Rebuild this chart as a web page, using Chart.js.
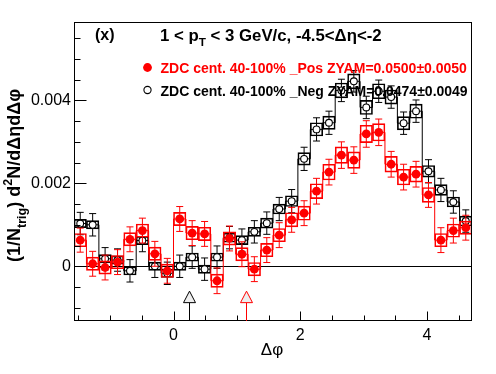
<!DOCTYPE html>
<html><head><meta charset="utf-8">
<script src="https://cdn.jsdelivr.net/npm/chart.js@4"></script>
<style>html,body{margin:0;padding:0;background:#fff;}canvas{display:block;}</style>
</head><body>
<canvas id="c" width="496" height="374"></canvas>
<script>
// ---- data ----
const nBins = 32;
const xMin = -Math.PI / 2, xMax = 3 * Math.PI / 2;
const yMin = -0.00132, yMax = 0.00589;

const posValues = [0.00063, 0.00006, -0.00003, 0.00010, 0.00065, 0.00086, 0.00030, -0.00011,
                   0.00114, 0.00080, 0.00078, -0.00035, 0.00067, 0.00029, -0.00007, 0.00039,
                   0.00075, 0.00112, 0.00128, 0.00181, 0.00227, 0.00268, 0.00256, 0.00319,
                   0.00323, 0.00246, 0.00215, 0.00222, 0.00172, 0.00063, 0.00086, 0.00093];
const posStat   = [0.00029, 0.00030, 0.00030, 0.00030, 0.00030, 0.00030, 0.00030, 0.00030,
                   0.00030, 0.00030, 0.00030, 0.00031, 0.00030, 0.00030, 0.00030, 0.00030,
                   0.00030, 0.00030, 0.00030, 0.00031, 0.00031, 0.00032, 0.00032, 0.00032,
                   0.00032, 0.00031, 0.00031, 0.00031, 0.00030, 0.00030, 0.00030, 0.00030];
const posSys    = [0.00016, 0.00016, 0.00016, 0.00016, 0.00016, 0.00016, 0.00016, 0.00016,
                   0.00016, 0.00016, 0.00016, 0.00016, 0.00016, 0.00016, 0.00016, 0.00016,
                   0.00016, 0.00017, 0.00017, 0.00018, 0.00019, 0.00020, 0.00020, 0.00021,
                   0.00021, 0.00019, 0.00019, 0.00019, 0.00018, 0.00016, 0.00016, 0.00016];

const negValues = [0.00103, 0.00100, 0.00018, 0.00015, -0.00011, 0.00062, 0.00000, -0.00017,
                   0.00000, 0.00022, -0.00007, 0.00022, 0.00069, 0.00063, 0.00083, 0.00104,
                   0.00138, 0.00157, 0.00259, 0.00330, 0.00346, 0.00424, 0.00446, 0.00383,
                   0.00422, 0.00408, 0.00345, 0.00374, 0.00229, 0.00184, 0.00155, 0.00109];
const negStat   = [0.00027, 0.00027, 0.00027, 0.00027, 0.00027, 0.00027, 0.00027, 0.00027,
                   0.00027, 0.00027, 0.00027, 0.00027, 0.00027, 0.00027, 0.00027, 0.00027,
                   0.00028, 0.00028, 0.00028, 0.00028, 0.00028, 0.00027, 0.00026, 0.00027,
                   0.00027, 0.00027, 0.00027, 0.00027, 0.00028, 0.00028, 0.00027, 0.00027];
const negSys    = [0.00010, 0.00010, 0.00010, 0.00010, 0.00010, 0.00010, 0.00010, 0.00010,
                   0.00010, 0.00010, 0.00010, 0.00010, 0.00011, 0.00011, 0.00011, 0.00012,
                   0.00012, 0.00013, 0.00015, 0.00016, 0.00016, 0.00018, 0.00018, 0.00017,
                   0.00018, 0.00017, 0.00016, 0.00017, 0.00014, 0.00013, 0.00012, 0.00012];

const xMajorTicks = [0, 2, 4];
const xMinorTicks = [-1.5, -1, -0.5, 0.5, 1, 1.5, 2.5, 3, 3.5, 4.5];
const yMajorTicks = [0, 0.002, 0.004];
const yMinorTicks = [-0.001, -0.0005, 0.0005, 0.001, 0.0015, 0.0025, 0.003, 0.0035, 0.0045, 0.005, 0.0055];

const zyamPositions = [0.24, 1.14];   // black (Neg), red (Pos)
const zyamArrowTip = -0.0006;

const titleText = ['1 < p', 'T', ' < 3 GeV/c, -4.5<\u0394\u03b7<-2'];
const panelLabel = '(x)';
const legendPos = 'ZDC cent. 40-100% _Pos ZYAM=0.0500\u00b10.0050';
const legendNeg = 'ZDC cent. 40-100% _Neg ZYAM=0.0474\u00b10.0049';
const xTitle = '\u0394\u03c6';
const yTitle = ['(1/N', 'trig', ') d', '2', 'N/d\u0394\u03b7d\u0394\u03c6'];

// ---- build ----
const binW = (xMax - xMin) / nBins;
const centers = Array.from({length: nBins}, (_, i) => xMin + (i + 0.5) * binW);

const RED = '#ff0000', BLACK = '#000000';

function seriesDatasets(vals, stat, sys, color, filled, order) {
  return [
    { type: 'scatter', data: centers.map((x, i) => ({x, y: vals[i]})),
      pointStyle: 'circle', pointRadius: filled ? 4.4 : 3.4,
      backgroundColor: filled ? color : '#ffffff', borderColor: color,
      borderWidth: filled ? 0 : 1.1, order: order },
    { type: 'scatter', data: centers.flatMap((x, i) => [{x, y: vals[i] + stat[i]}, {x, y: vals[i] - stat[i]}]),
      pointStyle: 'line', pointRadius: 3.5, borderColor: color, backgroundColor: color,
      borderWidth: 1, order: order + 1 },
    { type: 'line', data: centers.flatMap((x, i) => [{x, y: vals[i] - stat[i]}, {x, y: vals[i] + stat[i]}, {x, y: null}]),
      showLine: true, spanGaps: false, pointRadius: 0, borderColor: color, borderWidth: 1, order: order + 1 },
    { type: 'line', data: centers.map((x, i) => ({x, y: vals[i]})), stepped: 'middle',
      showLine: true, pointRadius: 0, borderColor: color, borderWidth: 1, order: order + 2 },
    { type: 'bar', data: centers.map((x, i) => ({x, y: [vals[i] - sys[i], vals[i] + sys[i]]})),
      backgroundColor: 'rgba(0,0,0,0)', borderColor: color, borderWidth: 1, borderSkipped: false,
      barPercentage: 1, categoryPercentage: 1, grouped: false, order: order + 2 }
  ];
}

const FONT = '"Liberation Sans", Arial, Helvetica, sans-serif';

function richText(ctx, x, y, parts, size, weight, color) {
  let cx = x;
  ctx.fillStyle = color;
  ctx.textBaseline = 'alphabetic';
  ctx.textAlign = 'left';
  for (const [t, k] of parts) {
    const s = k === 'n' ? size : size * 0.7;
    const dy = k === 'sub' ? size * 0.33 : (k === 'sup' ? -size * 0.42 : 0);
    ctx.font = weight + ' ' + s + 'px ' + FONT;
    ctx.fillText(t, cx, y + dy);
    cx += ctx.measureText(t).width;
  }
}

const rootPlugin = {
  id: 'rootStyle',
  beforeDatasetsDraw(chart) {
    const {ctx, chartArea: a, scales: {x, y}} = chart;
    ctx.save();
    ctx.strokeStyle = '#000'; ctx.lineWidth = 1;
    const y0 = Math.round(y.getPixelForValue(0)) + 0.5;
    ctx.beginPath(); ctx.moveTo(a.left, y0); ctx.lineTo(a.right, y0); ctx.stroke();
    ctx.restore();
  },
  afterDatasetsDraw(chart) {
    const {ctx, chartArea: a, scales: {x, y}} = chart;
    ctx.save();
    ctx.strokeStyle = '#000'; ctx.lineWidth = 1;
    ctx.strokeRect(Math.round(a.left) + 0.5, Math.round(a.top) + 0.5,
                   Math.round(a.right - a.left) - 1, Math.round(a.bottom - a.top) - 1);
    ctx.beginPath();
    const bx = Math.round(a.bottom) - 0.5, lx = Math.round(a.left) + 0.5;
    for (const v of xMajorTicks) { const p = Math.round(x.getPixelForValue(v)) + 0.5; ctx.moveTo(p, bx); ctx.lineTo(p, bx - 9); }
    for (const v of xMinorTicks) { const p = Math.round(x.getPixelForValue(v)) + 0.5; ctx.moveTo(p, bx); ctx.lineTo(p, bx - 5); }
    for (const v of yMajorTicks) { const p = Math.round(y.getPixelForValue(v)) + 0.5; ctx.moveTo(lx, p); ctx.lineTo(lx + 12, p); }
    for (const v of yMinorTicks) { const p = Math.round(y.getPixelForValue(v)) + 0.5; ctx.moveTo(lx, p); ctx.lineTo(lx + 6, p); }
    ctx.stroke();
    const arrowColors = [BLACK, RED];
    zyamPositions.forEach((v, i) => {
      const px = Math.round(x.getPixelForValue(v)) + 0.5;
      const tip = y.getPixelForValue(zyamArrowTip);
      ctx.strokeStyle = arrowColors[i];
      ctx.beginPath(); ctx.moveTo(px, tip + 11.5); ctx.lineTo(px, a.bottom); ctx.stroke();
      ctx.beginPath(); ctx.moveTo(px, tip); ctx.lineTo(px - 6, tip + 11.5); ctx.lineTo(px + 6, tip + 11.5); ctx.closePath();
      ctx.fillStyle = '#eeeeee'; ctx.fill(); ctx.stroke();
    });
    richText(ctx, 95, 40, [[panelLabel, 'n']], 16, 'bold', '#000');
    richText(ctx, 160, 40.5, [[titleText[0], 'n'], [titleText[1], 'sub'], [titleText[2], 'n']], 16.8, 'bold', '#000');
    ctx.fillStyle = RED; ctx.beginPath(); ctx.arc(147.5, 67.5, 4.4, 0, Math.PI * 2); ctx.fill();
    ctx.fillStyle = '#fff'; ctx.strokeStyle = '#000'; ctx.lineWidth = 1.1;
    ctx.beginPath(); ctx.arc(147.5, 90, 3.6, 0, Math.PI * 2); ctx.fill(); ctx.stroke();
    richText(ctx, 160.5, 73, [[legendPos, 'n']], 14, 'bold', RED);
    richText(ctx, 160.5, 96, [[legendNeg, 'n']], 14, 'bold', '#000');
    ctx.font = '17px ' + FONT; ctx.fillStyle = '#000'; ctx.textAlign = 'center'; ctx.textBaseline = 'alphabetic';
    ctx.fillText(xTitle, 272, 355);
    ctx.save();
    ctx.translate(20, 262); ctx.rotate(-Math.PI / 2);
    richText(ctx, 0, 0, [[yTitle[0], 'n'], [yTitle[1], 'sub'], [yTitle[2], 'n'], [yTitle[3], 'sup'], [yTitle[4], 'n']], 18, 'bold', '#000');
    ctx.restore();
    ctx.restore();
  }
};

new Chart(document.getElementById('c'), {
  type: 'scatter',
  data: {
    datasets: [
      ...seriesDatasets(posValues, posStat, posSys, RED, true, 0),
      ...seriesDatasets(negValues, negStat, negSys, BLACK, false, 10)
    ]
  },
  options: {
    responsive: false, animation: false, devicePixelRatio: 1, events: [],
    layout: { padding: { left: 0, right: 24, top: 22, bottom: 0 } },
    plugins: { legend: { display: false }, tooltip: { enabled: false } },
    scales: {
      x: {
        type: 'linear', min: xMin, max: xMax, offset: false,
        grid: { display: false, drawTicks: false }, border: { display: false },
        afterBuildTicks: s => { s.ticks = xMajorTicks.map(v => ({value: v})); },
        afterFit: s => { s.height = 53; },
        ticks: { autoSkip: false, maxRotation: 0, padding: 5, color: '#000',
                 font: { family: FONT, size: 16 }, callback: v => String(v) }
      },
      y: {
        type: 'linear', min: yMin, max: yMax,
        grid: { display: false, drawTicks: false }, border: { display: false },
        afterBuildTicks: s => { s.ticks = yMajorTicks.map(v => ({value: v})); },
        afterFit: s => { s.width = 74; },
        ticks: { autoSkip: false, padding: 3, color: '#000',
                 font: { family: FONT, size: 16 }, callback: v => v === 0 ? '0' : v.toFixed(3) }
      }
    }
  },
  plugins: [rootPlugin]
});
</script>
</body></html>
